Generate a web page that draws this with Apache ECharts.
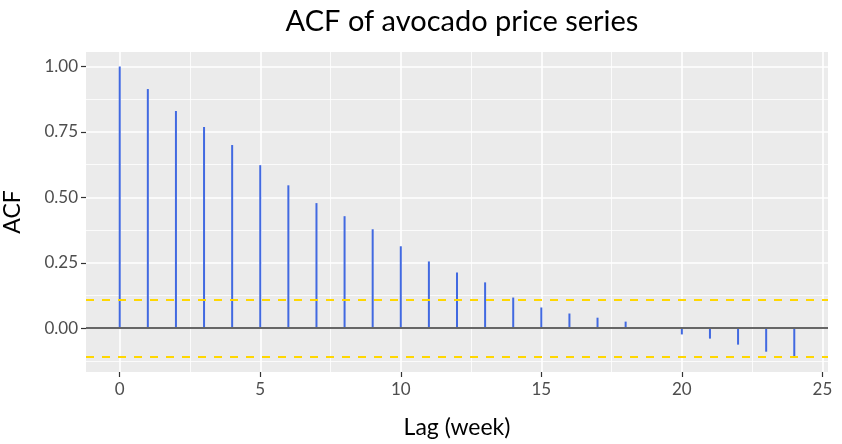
<!DOCTYPE html>
<html lang="en">

<head>
    <meta charset="UTF-8" />
    <title>ACF of avocado price series</title>
    <script src="https://cdn.jsdelivr.net/npm/echarts@6.0.0/dist/echarts.min.js"></script>
    <style>
        html, body { margin: 0; padding: 0; background: #fff; }
        #main { width: 842px; height: 444px; }
    </style>
</head>

<body>
    <div id="main"></div>

    <script type="text/javascript">
        // lags and autocorrelation
        let lags = [0, 1, 2, 3, 4, 5, 6, 7, 8, 9, 10, 11, 12, 13, 14, 15, 16, 17, 18, 19, 20, 21, 22, 23, 24];
        let acf = [1.000, 0.914, 0.830, 0.769, 0.700, 0.623, 0.546, 0.478, 0.428, 0.378, 0.313, 0.255, 0.213, 0.175,
            0.117, 0.079, 0.056, 0.040, 0.025, 0.002, -0.024, -0.040, -0.063, -0.090, -0.109];
        // confidence bound (dashed lines)
        let bound = 0.112;

        let xTicks = [0, 5, 10, 15, 20, 25];
        let xMinor = [2.5, 7.5, 12.5, 17.5, 22.5];
        let yTicks = [0, 0.25, 0.5, 0.75, 1];
        let yMinor = [-0.125, 0.125, 0.375, 0.625, 0.875];

        const font = "Lato";
        const xMin = -1.2, xMax = 25.2;
        const yMin = -0.1676, yMax = 1.0556;

        let myChart = echarts.init(document.getElementById("main"));

        // one axis draws the major grid + labels, a hidden twin draws the minor grid
        function makeAxis(min, max, values, major) {
            return {
                type: "value",
                min: min,
                max: max,
                axisLine: { show: false, onZero: false },
                axisTick: {
                    show: major,
                    length: 5,
                    customValues: values,
                    lineStyle: { color: "#333333", width: 1.2 }
                },
                axisLabel: {
                    show: major,
                    customValues: values,
                    color: "#4D4D4D",
                    fontFamily: font,
                    fontSize: 17
                },
                splitLine: {
                    show: true,
                    lineStyle: { color: "#FFFFFF", width: major ? 1.6 : 0.8 }
                }
            };
        }

        let xMain = makeAxis(xMin, xMax, xTicks, true);
        xMain.axisLabel.margin = 9;
        xMain.name = "Lag (week)";
        xMain.nameLocation = "middle";
        xMain.nameGap = 44;
        xMain.nameTextStyle = { fontFamily: font, fontSize: 23, color: "#000" };

        let yMain = makeAxis(yMin, yMax, yTicks, true);
        yMain.axisLabel.margin = 8;
        yMain.axisLabel.formatter = (v) => v.toFixed(2);
        yMain.name = "ACF";
        yMain.nameLocation = "middle";
        yMain.nameGap = 62;
        yMain.nameTextStyle = { fontFamily: font, fontSize: 23, color: "#000" };

        let options = {
            animation: false,
            title: {
                text: "ACF of avocado price series",
                left: 457,
                textAlign: "center",
                top: 2,
                textStyle: { fontFamily: font, fontSize: 29, fontWeight: "normal", color: "#000" }
            },
            grid: {
                left: 86,
                right: 14,
                top: 52,
                bottom: 72,
                outerBoundsMode: "none",
                containLabel: false,
                show: true,
                backgroundColor: "#EBEBEB",
                borderWidth: 0
            },
            xAxis: [xMain, makeAxis(xMin, xMax, xMinor, false)],
            yAxis: [yMain, makeAxis(yMin, yMax, yMinor, false)],
            series: [
                {
                    type: "bar",
                    xAxisIndex: 0,
                    yAxisIndex: 0,
                    barWidth: 2,
                    itemStyle: { color: "#4169E1" },
                    data: lags.map((l, i) => [l, acf[i]]),
                    markLine: {
                        silent: true,
                        symbol: "none",
                        label: { show: false },
                        data: [
                            { yAxis: 0, lineStyle: { color: "#666666", width: 2, type: "solid" } },
                            { yAxis: bound, lineStyle: { color: "#FFD700", width: 2, type: [8, 8] } },
                            { yAxis: -bound, lineStyle: { color: "#FFD700", width: 2, type: [8, 8] } }
                        ]
                    }
                }
            ]
        };

        myChart.setOption(options);
    </script>
</body>

</html>
